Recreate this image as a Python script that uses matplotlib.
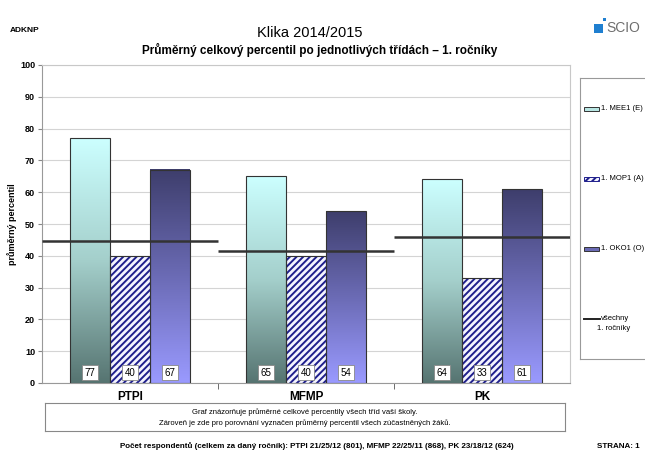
import numpy as np
import matplotlib
matplotlib.use("Agg")
import matplotlib.pyplot as plt
from matplotlib.colors import LinearSegmentedColormap
from matplotlib.patches import Rectangle

plt.rcParams['font.family'] = ['Liberation Sans', 'DejaVu Sans']
plt.rcParams['hatch.linewidth'] = 1.4

# -------------------------------
# Data
# -------------------------------
categories = ["PTPI", "MFMP", "PK"]
mee1 = [77, 65, 64]
mop1 = [40, 40, 33]
oko1 = [67, 54, 61]
avg_all = [44.5, 41.5, 46.0]
series_names = ["1. MEE1 (E)", "1. MOP1 (A)", "1. OKO1 (O)"]

W, H = 645, 450
fig = plt.figure(figsize=(W / 100, H / 100), dpi=100)


def px(x0, y0, x1, y1):
    # pixel box (top-left origin) -> figure fraction
    return [x0 / W, 1 - y1 / H, (x1 - x0) / W, (y1 - y0) / H]


# -------------------------------
# Main plot
# -------------------------------
ax = fig.add_axes(px(42, 65, 570, 383))
n = len(categories)
x = np.arange(n)
bw = 0.227

cmap_e = LinearSegmentedColormap.from_list("e", ["#567471", "#a4cfcb", "#ccffff"])
cmap_o = LinearSegmentedColormap.from_list("o", ["#9a9aff", "#6b6bb5", "#3e3e6c"])
grad = np.linspace(0, 1, 256).reshape(-1, 1)

for i in range(n):
    # MEE1 gradient bar
    x0 = x[i] - 1.5 * bw
    ax.imshow(grad, extent=[x0, x0 + bw, 0, mee1[i]], origin="lower",
              aspect="auto", cmap=cmap_e, zorder=2)
    ax.bar(x0 + bw / 2, mee1[i], bw, fill=False, edgecolor="#333333",
           linewidth=0.8, zorder=3)
    # MOP1 hatched bar
    ax.bar(x[i], mop1[i], bw, facecolor="#f4f4ff", edgecolor="#1f1f8c",
           hatch="/////", linewidth=0, zorder=2)
    ax.bar(x[i], mop1[i], bw, fill=False, edgecolor="#333333",
           linewidth=0.8, zorder=3)
    # OKO1 gradient bar
    x2 = x[i] + 0.5 * bw
    ax.imshow(grad, extent=[x2, x2 + bw, 0, oko1[i]], origin="lower",
              aspect="auto", cmap=cmap_o, zorder=2)
    ax.bar(x2 + bw / 2, oko1[i], bw, fill=False, edgecolor="#333333",
           linewidth=0.8, zorder=3)
    # value labels
    for xv, v in zip([x0 + bw / 2, x[i], x2 + bw / 2], [mee1[i], mop1[i], oko1[i]]):
        ax.text(xv, 3.2, str(v), ha="center", va="center", fontsize=7,
                zorder=5, bbox=dict(boxstyle="square,pad=0.25", fc="white",
                                    ec="#888888", lw=0.6))
    # average line
    ax.plot([x[i] - 0.5, x[i] + 0.5], [avg_all[i], avg_all[i]],
            color="#333333", linewidth=1.8, zorder=4, solid_capstyle="butt")

ax.set_xlim(-0.5, n - 0.5)
ax.set_ylim(0, 100)
ax.set_yticks(range(0, 101, 10))
ax.set_yticklabels([str(t) for t in range(0, 101, 10)], fontsize=6.5,
                   fontweight="bold")
ax.set_xticks(x)
ax.set_xticklabels(categories, fontsize=8.5, fontweight="bold")
ax.set_xticks([0.5, 1.5], minor=True)
ax.tick_params(axis="x", which="major", length=0, pad=6)
ax.tick_params(axis="x", which="minor", length=4, color="#555555", direction="out")
ax.tick_params(axis="y", length=3, color="#888888", pad=2)
ax.grid(axis="y", color="#d4d4d4", linewidth=0.8, zorder=0)
ax.set_axisbelow(True)
for s in ["top", "right"]:
    ax.spines[s].set_color("#c8c8c8")
ax.spines["left"].set_color("#999999")
ax.spines["bottom"].set_color("#999999")
ax.set_ylabel("průměrný percentil", fontsize=6.5, fontweight="bold", labelpad=2)

# -------------------------------
# Legend box
# -------------------------------
lax = fig.add_axes(px(580, 78, 660, 359))
lax.set_xlim(580, 660)
lax.set_ylim(359, 78)
lax.set_xticks([])
lax.set_yticks([])
for s in lax.spines.values():
    s.set_color("#999999")
    s.set_linewidth(0.8)

leg_y = [109, 179, 249]
lax.add_patch(Rectangle((584, leg_y[0] - 2), 15, 4, fc="#b8e6e3", ec="#333333", lw=0.7))
lax.add_patch(Rectangle((584, leg_y[1] - 2), 15, 4, fc="#f4f4ff", ec="#1f1f8c",
                        hatch="/////", lw=0.7))
lax.add_patch(Rectangle((584, leg_y[2] - 2), 15, 4, fc="#6b6bb5", ec="#333333", lw=0.7))
for yv, name in zip(leg_y, series_names):
    lax.text(601, yv, name, fontsize=5.5, va="center", ha="left")
lax.plot([584, 600], [319, 319], color="#222222", linewidth=1.4)
lax.text(601, 319, "všechny", fontsize=5.5, va="center", ha="left")
lax.text(597, 329, "1. ročníky", fontsize=5.5, va="center", ha="left")

# -------------------------------
# Info box below the chart
# -------------------------------
iax = fig.add_axes(px(45, 403, 565, 431))
iax.set_xticks([])
iax.set_yticks([])
for s in iax.spines.values():
    s.set_color("#888888")
    s.set_linewidth(0.8)
iax.text(0.5, 0.68, "Graf znázorňuje průměrné celkové percentily všech tříd vaší školy.",
         fontsize=5.5, ha="center", va="center", transform=iax.transAxes)
iax.text(0.5, 0.28, "Zároveň je zde pro porovnání vyznačen průměrný percentil všech zúčastněných žáků.",
         fontsize=5.5, ha="center", va="center", transform=iax.transAxes)

# -------------------------------
# Header / footer texts
# -------------------------------
fig.text(10 / W, 1 - 30 / H, "ADKNP", fontsize=6, fontweight="bold", va="center")
fig.text(310 / W, 1 - 33 / H, "Klika 2014/2015", fontsize=10.5, ha="center", va="center")
fig.text(320 / W, 1 - 50 / H,
         "Průměrný celkový percentil po jednotlivých třídách – 1. ročníky",
         fontsize=8.5, fontweight="bold", ha="center", va="center")
fig.text(317 / W, 1 - 446 / H,
         "Počet respondentů (celkem za daný ročník): PTPI 21/25/12 (801), MFMP 22/25/11 (868), PK 23/18/12 (624)",
         fontsize=5.8, fontweight="bold", ha="center", va="center")
fig.text(640 / W, 1 - 446 / H, "STRANA: 1", fontsize=5.8, fontweight="bold",
         ha="right", va="center")

# SCIO logo
fig.patches.append(Rectangle((594 / W, 1 - 33 / H), 9 / W, 9 / H, fc="#1f7fd0",
                             ec="none", transform=fig.transFigure, figure=fig))
fig.patches.append(Rectangle((603 / W, 1 - 21 / H), 3 / W, 3 / H, fc="#1f7fd0",
                             ec="none", transform=fig.transFigure, figure=fig))
fig.text(606 / W, 1 - 28 / H, "SCIO", fontsize=10, color="#6e6e6e",
         va="center", ha="left")

fig.savefig("out.png", dpi=100)
